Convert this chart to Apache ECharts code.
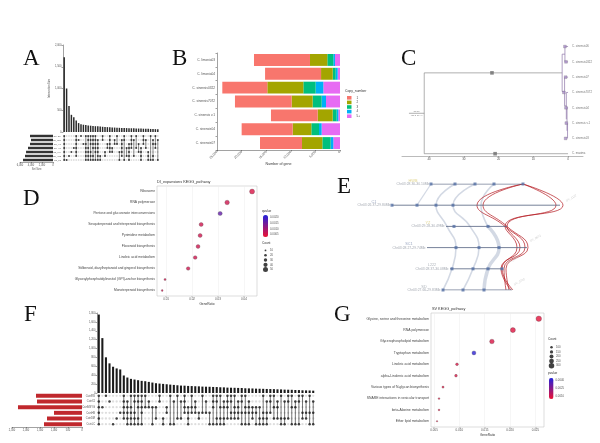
<!DOCTYPE html>
<html><head><meta charset="utf-8">
<script src="https://cdn.jsdelivr.net/npm/echarts@6/dist/echarts.min.js"></script>
<style>html,body{margin:0;padding:0;background:#fff}#c{width:600px;height:443px}</style>
</head><body><div id="c"></div>
<script>
// ---------------- Panel A (UpSet) ----------------
const aIntersections = [1720,1000,600,395,340,265,205,180,167,160,152,145,140,133,130,125,120,116,112,108,105,102,99,96,94,92,90,88,86,84,82,80,78,76,74,72,70,68,66,64];
const aSets = ['Cs_DF','Cs_SW','Cs_VL','Cs_HL','Cs_MY','Cs_WS','Cs_LZ'];
const aSetSizes = [4180,4000,4180,4545,4900,5090,5450];
const aPatterns = ['1111111','0000001','0000010','0000100','0001000','1111110','0100000','1000000','0010000','1011111',
 '1101111','1110111','1111011','1111101','0111111','0000011','1100000','0000110','0011000','1111100',
 '0001100','0110000','1010000','0000101','0111110','1100001','0001010','0011111','1111000','0100010',
 '1001000','0010100','0001111','1110000','0101000','0000111','1000001','0110011','1011000','0100001'];
// ---------------- Panel B ----------------
const bSpecies = ['C. limonia03','C. limonia04','C. sinensis0322','C. sinensis7072','C. sinensis v.1','C. sinensis04','C. sinensis07'];
const bLevels = ['1','2','3','4','5+'];
const bCopy1 = [11380,11380,9150,11520,9490,10370,8540];
const bCopy2 = [3520,2370,7320,4270,3050,3790,4130];
const bCopy3 = [1220,610,2500,1830,810,1560,1690];
const bCopy4 = [340,400,1560,880,340,540,540];
const bCopy5 = [1020,470,3390,2850,340,3730,1360];
const bColors = ['#F8766D','#A3A500','#00BF7D','#00B0F6','#E76BF3'];
// ---------------- Panel C (tree; rows numbered 1..8 from the bottom) ----------------
const cLeaves = ['C. sinensis06','C. sinensis0322','C. sinensis07','C. sinensis7072','C. sinensis04','C. sinensis v.1','C. sinensis03','C. maxima'];
const cLeafRows = [8,7,6,5,4,3,2,1];
const cTicks = [0,10,20,30,40];
const cEdgesMain = [[[45.8,3.64],[41.4,3.64]],[[41.4,6.28],[41.4,1]],[[41.4,6.28],[1.7,6.28]],[[41.4,1],[0,1]]];
const cEdgesClade = [[[1.7,7.5],[1.7,5.06]],[[1.7,7.5],[0.9,7.5]],[[0.9,8],[0.9,7]],[[0.9,8],[0,8]],[[0.9,7],[0,7]],
 [[1.7,5.06],[1.0,5.06]],[[1.0,6],[1.0,4.125]],[[1.0,6],[0,6]],[[1.0,4.125],[0.5,4.125]],[[0.5,5],[0.5,3.25]],
 [[0.5,5],[0,5]],[[0.5,3.25],[0.3,3.25]],[[0.3,4],[0.3,2.5]],[[0.3,4],[0,4]],[[0.3,2.5],[0.15,2.5]],
 [[0.15,3],[0.15,2]],[[0.15,3],[0,3]],[[0.15,2],[0,2]]];
const cNodeMarks = [[21.9,6.28],[21.0,1]];
const cLeafMarkAge = [0.9,0.6,0.7,1.2,0.6,0.5,0.7];
const cRootLabel = [43.6,3.64];
// ---------------- Panel D ----------------
const dPathways = ['Ribosome','RNA polymerase','Pentose and glucuronate interconversions','Sesquiterpenoid and triterpenoid biosynthesis','Pyrimidine metabolism','Flavonoid biosynthesis','Linoleic acid metabolism','Stilbenoid, diarylheptanoid and gingerol biosynthesis','Glycosylphosphatidylinositol (GPI)-anchor biosynthesis','Monoterpenoid biosynthesis'];
const dRatio = [0.0431,0.0335,0.0308,0.0235,0.0231,0.0223,0.0212,0.0185,0.0096,0.0085];
const dCount = [50,44,40,38,38,36,34,33,15,10];
const dQ = [0.0005,0.0006,0.0016,0.0006,0.0006,0.0006,0.0006,0.0006,0.0006,0.0006];
const dTicks = [0.01,0.02,0.03,0.04];
const dCountKeys = [10,20,30,40,50];
const dQTicks = [0.0005,0.0010,0.0015,0.0020];
// ---------------- Panel E (synteny) ----------------
const eNames = ['HWB','C1','YZ','SC1','L222','SD'];
const eNameColors = ['#d8c870','#7f8fb0','#d8c870','#7f8fb0','#9aa0aa','#9aa0aa'];
const eChr = ['Chr03:28.30-30.10Mb','Chr03:26.37-29.80Mb','Chr03:29.28-30.49Mb','Chr03:28.27-29.74Mb','Chr03:28.37-30.08Mb','Chr03:27.66-29.83Mb'];
const eStart = [76,37,91,72,95,87];
const eEnd = [168,205,152,172,148,157];
const eGenes = [[76,100,120,139,168],[37,62,81,98],[99,133],[101,124,144],[97,118,133,147],[88,108,129]];
const eGrayLinks = [
 [[76,0],[62,1]],
 [[100,0],[81,1],[92,2],[101,3],[97,4],[88,5]],
 [[120,0],[98,1],[115,2],[124,3],[118,4],[108,5]],
 [[139,0],[126,1],[133,2]],
 [[133,2],[144,3],[133,4],[129,5]]];
const eGrayWidth = [1.2,1.6,1.6,1.6,3.5];
const eRedLinks = [
 [[168,0],[122,1],[150,2],[170,3],[149,4],[151,5]],
 [[168,0],[128,1],[152,2],[173,3],[151,4],[154,5]],
 [[168,0],[201,1],[152,2],[165,3],[146,4],[156,5]],
 [[168,0],[208,1],[150,2],[162,3],[147,4],[158,5]]];
const eTagText = ['SV_0931','SV_1127','SV_0872','SV_1044','SV_0765'];
const eTagPos = [[171,-0.25],[210,0.8],[174,2.7],[152,3.7],[158,4.75]];
// ---------------- Panel F (UpSet) ----------------
const fIntersections = [1765,1235,803,667,591,553,530,394,348,318,303,288,273,265,250,235,220,212,205,197,189,182,174,167,165,159,156,152,150,144,142,140,136,134,129,127,121,119,117,114,112,106,104,102,98,96,94,91,89,87,83,81,76,74,72,68,66,61,59,57,53];
const fSets = ['CsinSW','CsinXJ','CsinMSYG','CsinHB','CsinDM','CsinLC'];
const fSetSizes = [1643,1607,2286,1000,1250,1357];
const fPatterns = ['111111','001000','100000','010000','000001','000010','000100','111110','011111','101111',
 '110111','111011','111101','101000','011000','001001','001010','110000','000011','001100',
 '100001','010001','100010','010010','111100','001111','101100','011100','000110','100100',
 '010100','000101','111001','110011','101011','011011','111010','110110','101110','011110',
 '110101','101101','011101','001110','001101','001011','100111','010111','110100','101010',
 '011010','100011','010011','110010','101001','011001','110001','100110','010110','100101','010101'];
// ---------------- Panel G ----------------
const gPathways = ['Glycine, serine and threonine metabolism','RNA polymerase','Glycerophospholipid metabolism','Tryptophan metabolism','Linoleic acid metabolism','alpha-Linolenic acid metabolism','Various types of N-glycan biosynthesis','SNARE interactions in vesicular transport','beta-Alanine metabolism','Ether lipid metabolism'];
const gRatio = [0.02567,0.02056,0.01642,0.01287,0.00953,0.00933,0.00677,0.00598,0.00598,0.00559];
const gCount = [300,270,240,200,120,115,80,50,50,30];
const gP = [0.0007,0.0008,0.0009,0.0043,0.0009,0.0009,0.0008,0.0008,0.0008,0.0008];
const gTicks = [0.005,0.010,0.015,0.020,0.025];
const gCountKeys = [100,150,200,250,300];
const gPTicks = [0.001,0.0025,0.004];

// ---------------- helpers ----------------
const FONT = 'Liberation Sans';
const sizeD = c => 1 + c * 0.08;
const sizeG = c => 1 + c * 0.015;
function axisOn(extra) {
  return Object.assign({
    axisLine:{show:true,onZero:false,lineStyle:{color:'#444',width:0.5}},
    axisTick:{show:true,length:1.5,lineStyle:{color:'#444',width:0.5}},
    splitLine:{show:false}
  }, extra);
}
function cells(patterns) {
  const all = [], on = [], seg = [];
  patterns.forEach((p, c) => {
    const rows = [];
    for (let r = 0; r < p.length; r++) { all.push([c, r]); if (p[r] === '1') { on.push([c, r]); rows.push(r); } }
    if (rows.length > 1) seg.push([c, rows[0], rows[rows.length - 1]]);
  });
  return {all, on, seg};
}
function matrixSeries(patterns, ai, dotSize, lw) {
  const m = cells(patterns);
  return [
    {type:'scatter', xAxisIndex:ai, yAxisIndex:ai, data:m.all, symbolSize:dotSize, itemStyle:{color:'#d6d6d6'}, silent:true, z:1},
    {type:'custom', xAxisIndex:ai, yAxisIndex:ai, data:m.seg, z:2, silent:true,
      renderItem:(params, api) => {
        const p1 = api.coord([api.value(0), api.value(1)]);
        const p2 = api.coord([api.value(0), api.value(2)]);
        return {type:'line', shape:{x1:p1[0], y1:p1[1], x2:p2[0], y2:p2[1]}, style:{stroke:'#1a1a1a', lineWidth:lw}};
      }},
    {type:'scatter', xAxisIndex:ai, yAxisIndex:ai, data:m.on, symbolSize:dotSize + 0.2, itemStyle:{color:'#1a1a1a'}, silent:true, z:3}
  ];
}
function segSeries(seg, ai, color, width, z) {
  return {type:'line', xAxisIndex:ai, yAxisIndex:ai, data:seg, symbol:'none', silent:true, z:z || 2,
    lineStyle:{color, width}};
}
const letter = (t, l, tp) => ({text:t, left:l, top:tp, padding:0, textStyle:{fontFamily:'Liberation Serif', fontSize:23, fontWeight:'normal', color:'#111'}});
const small = (t, l, tp, fs) => ({text:t, left:l, top:tp, padding:0, textStyle:{fontFamily:FONT, fontSize:fs || 3.4, fontWeight:'normal', color:'#333'}});

const series = [];
// A
series.push({type:'bar', xAxisIndex:0, yAxisIndex:0, data:aIntersections, barWidth:'62%', itemStyle:{color:'#2a2a2a'}});
series.push(...matrixSeries(aPatterns, 1, 1.8, 0.5));
series.push({type:'bar', xAxisIndex:2, yAxisIndex:2, data:aSetSizes, barWidth:'62%', itemStyle:{color:'#333'}});
// B (stack from right: 5+ first)
const bData = [bCopy1, bCopy2, bCopy3, bCopy4, bCopy5];
for (let k = 4; k >= 0; k--) {
  series.push({type:'bar', name:bLevels[k], stack:'b', xAxisIndex:3, yAxisIndex:3, data:bData[k], barCategoryGap:'14%', itemStyle:{color:bColors[k]}});
}
// C
cEdgesMain.forEach(e => series.push(segSeries(e, 4, '#7a7a7a', 0.6)));
cEdgesClade.forEach(e => series.push(segSeries(e, 4, '#8c74a8', 0.7)));
series.push({type:'scatter', xAxisIndex:4, yAxisIndex:4, data:cNodeMarks, symbol:'rect', symbolSize:3.6, itemStyle:{color:'#6d6d6d'}, z:3});
series.push({type:'scatter', xAxisIndex:4, yAxisIndex:4, data:cLeafMarkAge.map((a, i) => [a, cLeafRows[i]]), symbol:'rect', symbolSize:2.8, itemStyle:{color:'#a98dc9', borderColor:'#666', borderWidth:0.3}, z:3});
series.push({type:'scatter', xAxisIndex:4, yAxisIndex:4, data:cLeafRows.map(r => [0, r]), symbolSize:0,
  label:{show:true, position:'right', distance:4, fontSize:2.8, color:'#555', fontFamily:FONT, formatter:p => cLeaves[p.dataIndex]}});
series.push({type:'scatter', xAxisIndex:4, yAxisIndex:4, data:[cRootLabel], symbolSize:0,
  label:{show:true, position:'inside', fontSize:2.4, color:'#666', fontFamily:FONT, formatter:'25.26\n\n(21.3-29.4)'}});
// D
const idxD = series.length;
series.push({type:'scatter', xAxisIndex:5, yAxisIndex:5, data:dRatio.map((r, i) => [r, i, dCount[i], dQ[i]]),
  symbolSize:v => sizeD(v[2]), itemStyle:{borderColor:'#333', borderWidth:0.3}, z:3});
series.push({type:'scatter', xAxisIndex:6, yAxisIndex:6, data:dCountKeys.map((c, i) => [0, i]),
  symbolSize:(v, p) => sizeD(dCountKeys[p.dataIndex]), itemStyle:{color:'#111'}});
// E
eStart.forEach((s, i) => series.push(segSeries([[s, i], [eEnd[i], i]], 8, '#53617f', 0.8, 3)));
eGrayLinks.forEach((lnk, i) => series.push({type:'line', xAxisIndex:8, yAxisIndex:8, data:lnk, smooth:0.5, symbol:'none',
  lineStyle:{color:'rgba(175,185,205,0.55)', width:eGrayWidth[i]}, z:1, silent:true}));
eRedLinks.forEach(lnk => series.push({type:'line', xAxisIndex:8, yAxisIndex:8, data:lnk, smooth:0.5, symbol:'none',
  lineStyle:{color:'#b3161c', width:0.7}, z:2, silent:true}));
const eGenePts = [];
eGenes.forEach((g, r) => g.forEach(x => eGenePts.push([x, r])));
series.push({type:'scatter', xAxisIndex:8, yAxisIndex:8, data:eGenePts, symbol:'rect', symbolSize:3, itemStyle:{color:'#5570a5'}, z:4});
series.push({type:'scatter', xAxisIndex:8, yAxisIndex:8, z:4, symbolSize:0,
  data:eStart.map((s, i) => ({value:[s, i], label:{rich:{
    n:{color:eNameColors[i], fontSize:3.8, align:'center', fontFamily:FONT},
    c:{color:'#8c929e', fontSize:3.4, align:'center', fontFamily:FONT}}}})),
  label:{show:true, position:'left', distance:1.5, offset:[0,-2], formatter:p => '{n|' + eNames[p.dataIndex] + '}\n{c|' + eChr[p.dataIndex] + '}'}});
series.push({type:'scatter', xAxisIndex:8, yAxisIndex:8, data:eTagPos, symbolSize:0,
  label:{show:true, position:'right', distance:1, rotate:28, fontSize:3, color:'#c4c4c4', fontFamily:FONT, formatter:p => eTagText[p.dataIndex]}});
// F
series.push({type:'bar', xAxisIndex:9, yAxisIndex:9, data:fIntersections, barWidth:'58%', itemStyle:{color:'#1b1b1b'}});
series.push(...matrixSeries(fPatterns, 10, 2.3, 0.6));
series.push({type:'bar', xAxisIndex:11, yAxisIndex:11, data:fSetSizes, barWidth:'70%', itemStyle:{color:'#c0282d'}});
// G
const idxG = series.length;
series.push({type:'scatter', xAxisIndex:12, yAxisIndex:12, data:gRatio.map((r, i) => [r, i, gCount[i], gP[i]]),
  symbolSize:v => sizeG(v[2]), itemStyle:{borderColor:'#333', borderWidth:0.3}, z:3});
series.push({type:'scatter', xAxisIndex:13, yAxisIndex:13, data:gCountKeys.map((c, i) => [0, i]),
  symbolSize:(v, p) => sizeG(gCountKeys[p.dataIndex]), itemStyle:{color:'#111'}});

const lbl = (fs, extra) => Object.assign({fontSize:fs, color:'#555', fontFamily:FONT, margin:1.5}, extra || {});
const aCols = aIntersections.map((_, i) => String(i + 1));
const fCols = fIntersections.map((_, i) => String(i + 1));
const hid = (gi, type, extra) => Object.assign({gridIndex:gi, type, show:false}, extra || {});

const option = {
  animation:false,
  backgroundColor:'#ffffff',
  textStyle:{fontFamily:FONT},
  title:[
    letter('A',23,47), letter('B',172,47), letter('C',401,47), letter('D',23,187),
    letter('E',337,175), letter('F',24,303), letter('G',334,303),
    small('Copy_number',345,90,3.4),
    small('DI_expansions KEGG_pathway',157,180,3.8),
    small('qvalue',262,210,3.2), small('Count',262,242,3.2),
    small('SV KEGG_pathway',432,307,3.8),
    small('Count',548,338,3.2), small('pvalue',548,372,3.2)
  ],
  legend:[{data:bLevels, orient:'vertical', left:347, top:96, padding:0, itemWidth:4.5, itemHeight:3.6, itemGap:1,
    icon:'rect', textStyle:{fontSize:3, color:'#444', fontFamily:FONT}, selectedMode:false}],
  grid:[
    {left:63, top:45, width:96, height:87},
    {left:63, top:134, width:96, height:28},
    {left:20, top:134, width:33, height:28},
    {left:217, top:53, width:123, height:97},
    {left:402, top:45, width:181, height:111},
    {left:157, top:186, width:100, height:110, show:true, borderColor:'#bbb', borderWidth:0.5, backgroundColor:'#fff'},
    {left:263, top:248, width:5, height:24},
    {left:263, top:215, width:5, height:22},
    {left:355, top:184, width:220, height:106},
    {left:97, top:313, width:218, height:80},
    {left:97, top:393, width:218, height:34},
    {left:12, top:393, width:70, height:34},
    {left:431, top:313, width:113, height:114, show:true, borderColor:'#bbb', borderWidth:0.5, backgroundColor:'#fff'},
    {left:549, top:345, width:5, height:23},
    {left:549, top:378, width:4.5, height:21},
    {left:402, top:155, width:181, height:1}
  ],
  xAxis:[
    hid(0,'category',{data:aCols}),
    hid(1,'category',{data:aCols}),
    axisOn({gridIndex:2, type:'value', inverse:true, min:0, max:6000, interval:2000, axisLabel:lbl(2.6),
      name:'Set Size', nameLocation:'middle', nameGap:6, nameTextStyle:{fontSize:2.6, color:'#555'}}),
    axisOn({gridIndex:3, type:'value', inverse:true, min:0, max:25000, interval:5000, axisLabel:lbl(3.2,{rotate:45}),
      name:'Number of gene', nameLocation:'middle', nameGap:12, nameTextStyle:{fontSize:3.6, color:'#333'}}),
    hid(4,'value',{inverse:true, min:-4.3, max:47.8}),
    {gridIndex:5, type:'value', min:0.0065, max:0.045,
      axisLine:{show:false, onZero:false}, axisTick:{show:true, length:1.5, customValues:dTicks, lineStyle:{color:'#666', width:0.4}},
      axisLabel:lbl(3,{customValues:dTicks, formatter:v => v.toFixed(2)}),
      splitLine:{show:true, lineStyle:{color:'#ececec', width:0.5}},
      name:'GeneRatio', nameLocation:'middle', nameGap:7, nameTextStyle:{fontSize:3.2, color:'#333'}},
    hid(6,'category',{data:['k']}),
    hid(7,'value',{min:0, max:1}),
    hid(8,'value',{min:0, max:220}),
    hid(9,'category',{data:fCols}),
    hid(10,'category',{data:fCols}),
    axisOn({gridIndex:11, type:'value', inverse:true, min:0, max:2500, interval:500, axisLabel:lbl(2.6)}),
    {gridIndex:12, type:'value', min:0.0044, max:0.0267,
      axisLine:{show:false, onZero:false}, axisTick:{show:true, length:1.5, customValues:gTicks, lineStyle:{color:'#666', width:0.4}},
      axisLabel:lbl(3,{customValues:gTicks, formatter:v => v.toFixed(3)}),
      splitLine:{show:true, lineStyle:{color:'#ececec', width:0.5}},
      name:'GeneRatio', nameLocation:'middle', nameGap:7, nameTextStyle:{fontSize:3.2, color:'#333'}},
    hid(13,'category',{data:['k']}),
    hid(14,'value',{min:0, max:1}),
    {gridIndex:15, type:'value', inverse:true, min:-4.3, max:47.8, position:'bottom',
      axisLine:{show:true, onZero:false, lineStyle:{color:'#777', width:0.5}},
      axisTick:{show:true, length:1.5, customValues:cTicks, lineStyle:{color:'#777', width:0.5}},
      axisLabel:lbl(3,{customValues:cTicks}), splitLine:{show:false}}
  ],
  yAxis:[
    axisOn({gridIndex:0, type:'value', min:0, max:2000, interval:500, axisLabel:lbl(2.6),
      name:'Intersection Size', nameLocation:'middle', nameGap:9, nameRotate:90, nameTextStyle:{fontSize:2.6, color:'#555'}}),
    {gridIndex:1, type:'category', data:aSets, inverse:true, axisLine:{show:false}, axisTick:{show:false},
      axisLabel:lbl(2.4,{interval:0, margin:2})},
    hid(2,'category',{data:aSets, inverse:true}),
    axisOn({gridIndex:3, type:'category', data:bSpecies, inverse:true, axisLabel:lbl(3.2,{interval:0, margin:2})}),
    hid(4,'value',{min:0.85, max:8.1}),
    {gridIndex:5, type:'category', data:dPathways, inverse:true, axisLine:{show:false}, axisTick:{show:false},
      axisLabel:lbl(3.3,{interval:0, margin:2, color:'#444'})},
    {gridIndex:6, type:'category', data:dCountKeys.map(String), inverse:true, position:'right', axisLine:{show:false}, axisTick:{show:false},
      axisLabel:lbl(2.8,{interval:0, margin:2})},
    {gridIndex:7, type:'value', min:0.0003, max:0.0022, position:'right', axisLine:{show:false}, axisTick:{show:false},
      splitLine:{show:false}, axisLabel:lbl(2.8,{customValues:dQTicks, margin:2, formatter:v => v.toFixed(4)})},
    hid(8,'value',{min:0, max:5, inverse:true}),
    axisOn({gridIndex:9, type:'value', min:0, max:1800, interval:200, axisLabel:lbl(2.6)}),
    {gridIndex:10, type:'category', data:fSets, inverse:true, axisLine:{show:false}, axisTick:{show:false},
      axisLabel:lbl(2.6,{interval:0, margin:2})},
    hid(11,'category',{data:fSets, inverse:true}),
    {gridIndex:12, type:'category', data:gPathways, inverse:true, axisLine:{show:false}, axisTick:{show:false},
      axisLabel:lbl(3.4,{interval:0, margin:2, color:'#444'})},
    {gridIndex:13, type:'category', data:gCountKeys.map(String), inverse:true, position:'right', axisLine:{show:false}, axisTick:{show:false},
      axisLabel:lbl(2.8,{interval:0, margin:2})},
    {gridIndex:14, type:'value', min:0.0005, max:0.0045, position:'right', axisLine:{show:false}, axisTick:{show:false},
      splitLine:{show:false}, axisLabel:lbl(2.8,{customValues:gPTicks, margin:2, formatter:v => v.toFixed(4)})},
    hid(15,'value',{min:0, max:1})
  ],
  visualMap:[
    {type:'continuous', seriesIndex:idxD, dimension:3, min:0.0003, max:0.0022, left:263, top:215, itemWidth:5, itemHeight:22,
      padding:0, calculable:false, hoverLink:false, inRange:{color:['#ee1133','#2222dd']}, textStyle:{fontSize:2}},
    {type:'continuous', seriesIndex:idxG, dimension:3, min:0.0005, max:0.0045, left:549, top:378, itemWidth:4.5, itemHeight:21,
      padding:0, calculable:false, hoverLink:false, inRange:{color:['#ee1133','#2222dd']}, textStyle:{fontSize:2}}
  ],
  series
};
const chart = echarts.init(document.getElementById('c'), null, {renderer:'canvas'});
chart.setOption(option);
</script></body></html>
